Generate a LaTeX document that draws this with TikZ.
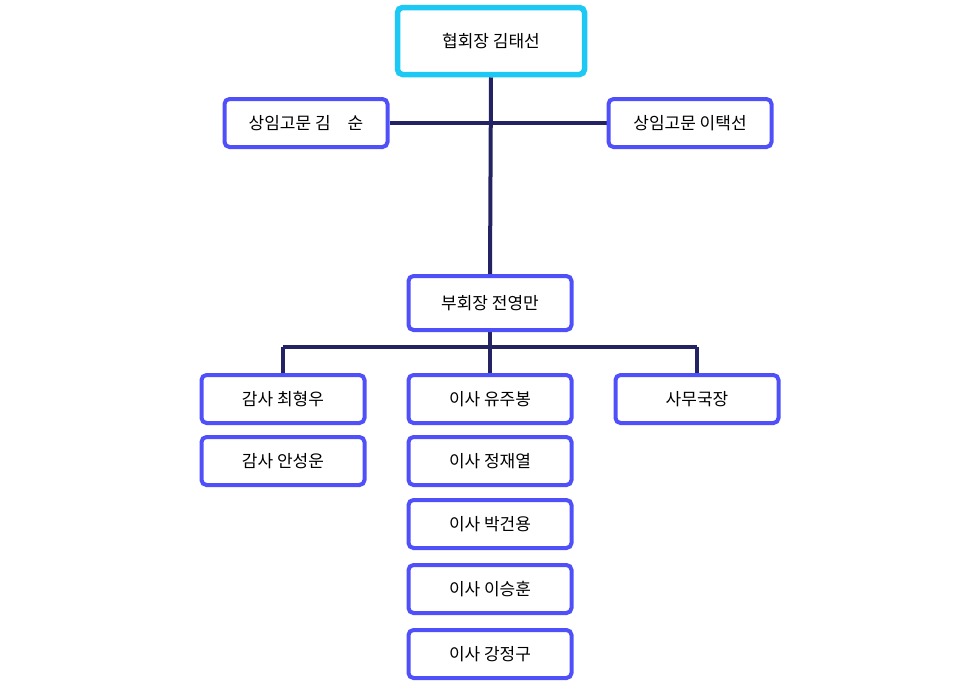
\documentclass[tikz,border=0pt]{standalone}
\usepackage{fontspec}
\newfontfamily\cjk{Noto Sans CJK KR}
\definecolor{boxblue}{RGB}{80,80,250}
\definecolor{topcyan}{RGB}{30,200,245}
\definecolor{linenavy}{RGB}{35,35,100}
\tikzset{>=latex}
\usetikzlibrary{backgrounds}

\begin{document}
\begin{tikzpicture}[x=1pt,y=-1pt,
  member/.style={draw=boxblue,line width=4pt,rounded corners=5pt,fill=white,
    minimum width=163pt,minimum height=48pt,font=\cjk\fontsize{17}{20}\selectfont},
  head/.style={member,draw=topcyan,line width=5.5pt,minimum width=187pt,minimum height=67pt},
  link/.style={draw=linenavy,line width=4pt}]
  \useasboundingbox (0,0) rectangle (980,689);
  % boxes
  \node[head]   (pres)  at (491,41)  {협회장 김태선};
  \node[member] (advL)  at (306,123) {상임고문 김\quad 순};
  \node[member] (advR)  at (690,123) {상임고문 이택선};
  \node[member,minimum height=54pt] (vice) at (490,303) {부회장 전영만};
  \node[member] (audA)  at (283,399) {감사 최형우};
  \node[member] (audB)  at (283,461) {감사 안성운};
  \node[member] (dirA)  at (490,399) {이사 유주봉};
  \node[member] (dirB)  at (490,461) {이사 정재열};
  \node[member] (dirC)  at (490,524) {이사 박건용};
  \node[member] (dirD)  at (490,589) {이사 이승훈};
  \node[member] (dirE)  at (490,654) {이사 강정구};
  \node[member] (sec)   at (697,399) {사무국장};
  % lines
  \coordinate (bus) at (490,347);
  \begin{scope}[on background layer]
    \draw[link] (pres.south) -- (vice.north);
    \draw[link] (advL.east) -- (advR.west);
    \draw[link] (vice.south) -- (bus);
    \draw[link] (audA.north |- bus) -- (sec.north |- bus);
    \draw[link] (audA.north |- bus) -- (audA.north);
    \draw[link] (bus) -- (dirA.north);
    \draw[link] (sec.north |- bus) -- (sec.north);
  \end{scope}
\end{tikzpicture}
\end{document}
